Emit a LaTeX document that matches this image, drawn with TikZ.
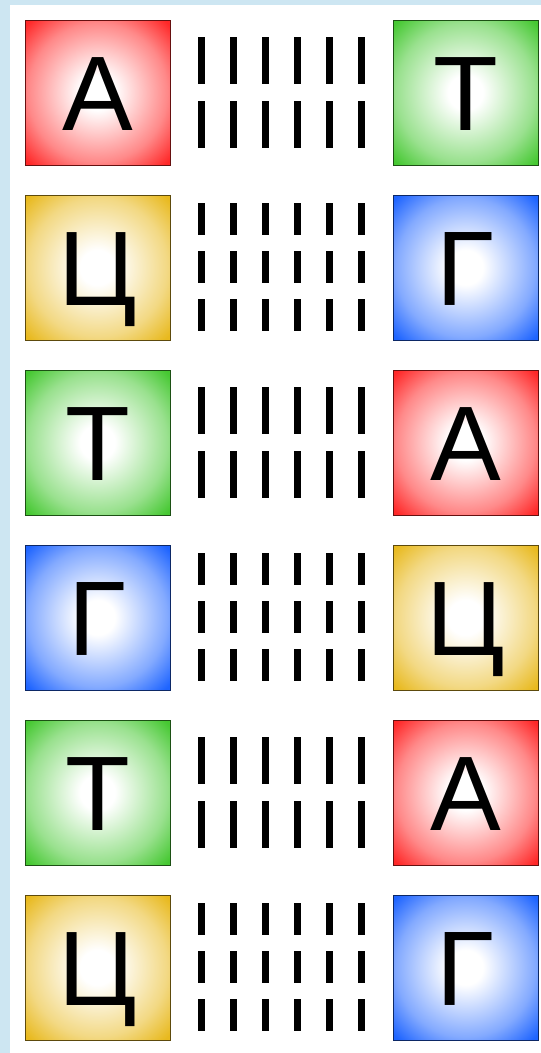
\documentclass[tikz,border=0pt]{standalone}
\usepackage{fontspec}
\setmainfont{Liberation Sans}
\usetikzlibrary{positioning}

\definecolor{paper}{RGB}{205,230,242}
\definecolor{adenine}{RGB}{255,40,40}
\definecolor{thymine}{RGB}{70,200,50}
\definecolor{guanine}{RGB}{30,100,255}
\definecolor{cytosine}{RGB}{232,185,30}

% white centre, saturated corners
\pgfdeclareradialshading{glowA}{\pgfpointorigin}{color(0bp)=(white); color(6bp)=(white); color(24bp)=(adenine!55!white); color(34bp)=(adenine); color(50bp)=(adenine)}
\pgfdeclareradialshading{glowT}{\pgfpointorigin}{color(0bp)=(white); color(6bp)=(white); color(24bp)=(thymine!55!white); color(34bp)=(thymine); color(50bp)=(thymine)}
\pgfdeclareradialshading{glowG}{\pgfpointorigin}{color(0bp)=(white); color(6bp)=(white); color(24bp)=(guanine!55!white); color(34bp)=(guanine); color(50bp)=(guanine)}
\pgfdeclareradialshading{glowC}{\pgfpointorigin}{color(0bp)=(white); color(6bp)=(white); color(24bp)=(cytosine!55!white); color(34bp)=(cytosine); color(50bp)=(cytosine)}

\begin{document}
\begin{tikzpicture}[x=1pt, y=-1pt,
    base/.style={minimum size=145pt, inner sep=0pt, outer sep=0pt, line width=1pt,
                 text height=76pt, text depth=0pt, font=\fontsize{106}{106}\selectfont},
    baseA/.style={base, shade, shading=glowA, draw=adenine!40!black},
    baseT/.style={base, shade, shading=glowT, draw=thymine!40!black},
    baseG/.style={base, shade, shading=glowG, draw=guanine!40!black},
    baseC/.style={base, shade, shading=glowC, draw=cytosine!40!black},
    bond/.style={line width=7pt}
]
    \useasboundingbox (0,0) rectangle (541,1053);
    \fill[paper] (0,0) rectangle (541,1053);
    \fill[white] (10,5) rectangle (541,1053);

    % row 1
    \node[baseA] (l1) at (97.5,92.5) {А};
    \node[baseT] (r1) at (465.5,92.5) {Т};
    % row 2
    \node[baseC] (l2) at (97.5,267.5) {Ц};
    \node[baseG] (r2) at (465.5,267.5) {Г};
    % row 3
    \node[baseT] (l3) at (97.5,442.5) {Т};
    \node[baseA] (r3) at (465.5,442.5) {А};
    % row 4
    \node[baseG] (l4) at (97.5,617.5) {Г};
    \node[baseC] (r4) at (465.5,617.5) {Ц};
    % row 5
    \node[baseT] (l5) at (97.5,792.5) {Т};
    \node[baseA] (r5) at (465.5,792.5) {А};
    % row 6
    \node[baseC] (l6) at (97.5,967.5) {Ц};
    \node[baseG] (r6) at (465.5,967.5) {Г};

    % hydrogen bonds: two for A-T, three for C-G
    \foreach \t in {20,370,720}
        \foreach \c in {0,...,5} {
            \draw[bond] (201.5+32*\c,\t+17) -- ++(0,47);
            \draw[bond] (201.5+32*\c,\t+81) -- ++(0,47);
        }
    \foreach \t in {195,545,895}
        \foreach \c in {0,...,5} {
            \draw[bond] (201.5+32*\c,\t+8) -- ++(0,32);
            \draw[bond] (201.5+32*\c,\t+56) -- ++(0,32);
            \draw[bond] (201.5+32*\c,\t+104) -- ++(0,32);
        }
\end{tikzpicture}
\end{document}
